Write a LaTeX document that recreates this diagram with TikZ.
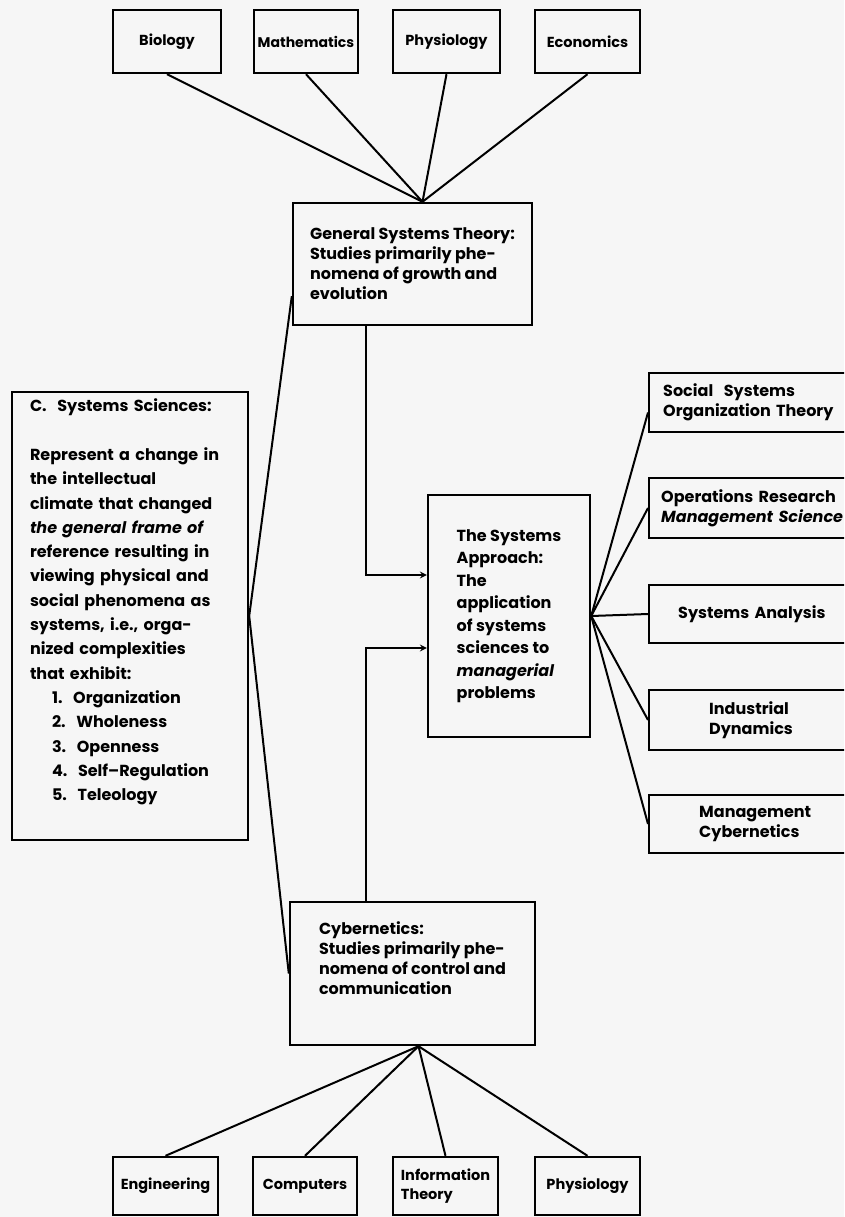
\documentclass[tikz,border=0pt]{standalone}
\usepackage{fontspec}
\setmainfont{Poppins}
\usepackage{tikz}
\usetikzlibrary{arrows,arrows.meta,positioning}
\tikzset{>=stealth}
\definecolor{paper}{gray}{0.965}

\begin{document}
\begin{tikzpicture}[x=1pt, y=-1pt, every node/.style={font=\bfseries\fontsize{16}{20}\selectfont},
		box/.style={draw, line width=2.4pt, rectangle, inner sep=0pt, minimum height=60pt},
		small/.style={box, minimum width=105pt, font=\bfseries\fontsize{14.5}{19}\selectfont},
		rbox/.style={box, anchor=west, align=left},
		link/.style={line width=2pt}]
	\fill[paper] (0,0) rectangle (844,1217);
	\useasboundingbox (0,0) rectangle (844,1217);
	\clip (0,0) rectangle (844,1217);
	% sciences feeding general systems theory
	\node[small, minimum width=108pt, minimum height=63pt] (bio) at (167,41.5) {Biology};
	\node[small, minimum width=104pt, minimum height=63pt, font=\bfseries\fontsize{14}{18}\selectfont] (math) at (306,41.5) {Mathematics};
	\node[small, minimum width=107pt, minimum height=63pt] (phys) at (446.5,41.5) {Physiology};
	\node[small, minimum height=63pt] (econ) at (587.5,41.5) {Economics};
	\node[box, minimum width=239pt, minimum height=122pt, align=left] (gst) at (412.5,264)
		{General Systems Theory:\\Studies primarily phe-\\nomena of growth and\\evolution};
	% left column
	\node[box, minimum width=236pt, minimum height=448pt, text width=200pt, align=left,
		font=\bfseries\fontsize{16}{24.3}\selectfont] (cbox) at (130,616)
		{C.~~Systems Sciences:\\[24.3pt]
		Represent a change in\\the intellectual\\climate that changed\\\textit{the general frame of}\\
		reference resulting in\\viewing physical and\\social phenomena as\\systems, i.e., orga-\\
		nized complexities\\that exhibit:\\
		\hspace*{22pt}1.~~Organization\\\hspace*{22pt}2.~~Wholeness\\\hspace*{22pt}3.~~Openness\\
		\hspace*{22pt}4.~~Self--Regulation\\\hspace*{22pt}5.~~Teleology\\[8pt]\mbox{}};
	% the systems approach
	\node[box, minimum width=162pt, minimum height=242pt, align=left,
		font=\bfseries\fontsize{16}{22.5}\selectfont] (sa) at (509,616)
		{The Systems\\Approach:\\The\\application\\of systems\\sciences to\\\textit{managerial}\\problems};
	% applications on the right
	\node[rbox, minimum height=59pt, inner xsep=14pt, text width=200pt] (soc) at (648,402.5)
		{Social~~Systems\\Organization Theory};
	\node[rbox, inner xsep=12pt, text width=204pt] (opr) at (648,508)
		{Operations Research\\\textit{Management Science}};
	\node[rbox, minimum height=58pt, inner xsep=29pt, text width=170pt] (san) at (648,614)
		{Systems Analysis};
	\node[rbox, inner xsep=60pt, text width=108pt] (ind) at (648,720)
		{Industrial\\Dynamics};
	\node[rbox, minimum height=58pt, inner xsep=50pt, text width=128pt] (mcy) at (648,824)
		{Management\\Cybernetics};
	% cybernetics and its sources
	\node[box, minimum width=245pt, minimum height=143pt, align=left] (cyb) at (412.5,973.5)
		{Cybernetics:\\Studies primarily phe-\\nomena of control and\\communication\\[10pt]};
	\node[small, minimum height=58pt] (eng) at (165.5,1186) {Engineering};
	\node[small, minimum width=104pt, minimum height=58pt] (comp) at (305,1186) {Computers};
	\node[small, minimum height=58pt, align=left] (info) at (445.5,1186)
		{Information\\Theory};
	\node[small, minimum height=58pt] (phy2) at (587.5,1186) {Physiology};
	% connectors
	\foreach \s in {bio,math,phys,econ}
		\draw[link] (\s.south) -- ([xshift=10pt]gst.north);
	\foreach \s in {eng,comp,info,phy2}
		\draw[link] (\s.north) -- ([xshift=6pt]cyb.south);
	\draw[link] ([yshift=30pt]gst.south west) -- (cbox.east) -- (cyb.west);
	\draw[link, ->] ([xshift=74pt]gst.south west) |- ([yshift=41pt]sa.west);
	\draw[link, ->] ([xshift=77pt]cyb.north west) |- ([yshift=-32pt]sa.west);
	\draw[link] (sa.east) -- ([yshift=-10pt]soc.west);
	\foreach \t in {opr,san,ind,mcy}
		\draw[link] (sa.east) -- (\t.west);
\end{tikzpicture}
\end{document}
